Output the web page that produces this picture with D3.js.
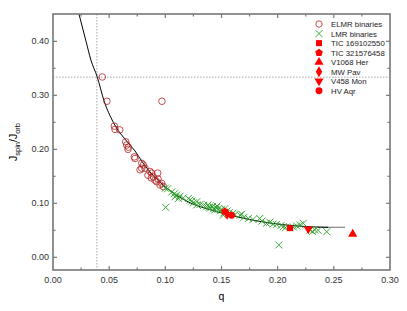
<!DOCTYPE html>
<html>
<head>
<meta charset="utf-8">
<script src="https://cdn.jsdelivr.net/npm/d3@7"></script>
<style>
  body { margin: 0; background: #fff; }
  svg { display: block; font-family: "Liberation Sans", Arial, sans-serif; }
</style>
</head>
<body>
<svg id="chart" width="407" height="311"></svg>
<script>
// ELMR binaries [q, Jspin/Jorb]
const elmrData = [
  [0.0439, 0.334], [0.048, 0.289], [0.097, 0.289], [0.0546, 0.243], [0.0552, 0.237],
  [0.0594, 0.236], [0.0647, 0.214], [0.0656, 0.208], [0.067, 0.204], [0.0668, 0.200],
  [0.0724, 0.186], [0.073, 0.183], [0.079, 0.174], [0.0804, 0.171], [0.0775, 0.162],
  [0.079, 0.165], [0.0819, 0.165], [0.0863, 0.159], [0.0879, 0.156], [0.0932, 0.156],
  [0.0893, 0.149], [0.0908, 0.143], [0.0923, 0.140], [0.0968, 0.137], [0.0953, 0.134],
  [0.0982, 0.131], [0.0845, 0.152], [0.0875, 0.147], [0.0935, 0.145]
];

// LMR binaries [q, Jspin/Jorb]
const lmrData = [
  [0.1003, 0.0926], [0.201, 0.0228],
  [0.100, 0.128], [0.102, 0.127], [0.1057, 0.121], [0.108, 0.118], [0.110, 0.115],
  [0.1086, 0.112], [0.1116, 0.109], [0.113, 0.113], [0.116, 0.110], [0.1205, 0.109],
  [0.122, 0.106], [0.1235, 0.104], [0.125, 0.101], [0.128, 0.103], [0.128, 0.097],
  [0.131, 0.098], [0.134, 0.096], [0.1368, 0.0937], [0.138, 0.097], [0.140, 0.091],
  [0.142, 0.094], [0.144, 0.0876], [0.145, 0.092], [0.147, 0.089], [0.149, 0.086],
  [0.1516, 0.078], [0.152, 0.082], [0.155, 0.086], [0.157, 0.083], [0.160, 0.0815],
  [0.162, 0.079], [0.1665, 0.078], [0.168, 0.080], [0.170, 0.074], [0.174, 0.072],
  [0.178, 0.070], [0.184, 0.072], [0.186, 0.067], [0.190, 0.063], [0.193, 0.065],
  [0.196, 0.0617], [0.199, 0.061], [0.203, 0.059], [0.205, 0.0567], [0.207, 0.055],
  [0.211, 0.0548], [0.214, 0.056], [0.217, 0.058], [0.220, 0.060], [0.2228, 0.063],
  [0.2288, 0.0506], [0.231, 0.048], [0.233, 0.0506], [0.236, 0.050], [0.2437, 0.0475],
  [0.139, 0.093], [0.143, 0.090], [0.146, 0.095], [0.150, 0.089], [0.153, 0.090]
];

// individual systems
const starNames = ["TIC 169102550", "TIC 321576458", "V1068 Her", "MW Pav", "V458 Mon", "HV Aqr"];
const starQ = [0.211, 0.153, 0.2668, 0.155, 0.2273, 0.159];
const starJ = [0.054, 0.085, 0.043, 0.080, 0.052, 0.078];

// fitted relation
const curveQ = [0.0232, 0.0294, 0.0338, 0.0394, 0.0454, 0.0537, 0.0656, 0.073, 0.080, 0.090,
                0.100, 0.110, 0.122, 0.140, 0.1576, 0.180, 0.202, 0.225, 0.245];
const curveJ = [0.450, 0.400, 0.365, 0.334, 0.290, 0.250, 0.215, 0.197, 0.175, 0.150,
                0.130, 0.115, 0.101, 0.088, 0.078, 0.068, 0.061, 0.057, 0.0555];
const tailQ = [0.235, 0.260];
const tailJ = [0.0556, 0.0556];

// reference lines
const qLimit = 0.039;
const jLimit = 1 / 3;

const xTicks = [0, 0.05, 0.10, 0.15, 0.20, 0.25, 0.30];
const yTicks = [0, 0.10, 0.20, 0.30, 0.40];

const svg = d3.select("#chart");
const pL = 53, pR = 390, pT = 14, pB = 270;

const x = d3.scaleLinear().domain([0, 0.30]).range([pL, pR]);
const y = d3.scaleLinear().domain([-0.0235, 0.4506]).range([pB, pT]);

const axisColor = "#777";
const textColor = "#333";

// dotted reference lines
svg.append("line")
  .attr("x1", x(qLimit)).attr("x2", x(qLimit))
  .attr("y1", pT).attr("y2", pB)
  .attr("stroke", "#c4c4c4").attr("stroke-width", 1.5)
  .attr("stroke-dasharray", "1.5,1.5");
svg.append("line")
  .attr("x1", pL).attr("x2", pR)
  .attr("y1", y(jLimit)).attr("y2", y(jLimit))
  .attr("stroke", "#c4c4c4").attr("stroke-width", 1.5)
  .attr("stroke-dasharray", "1.5,1.5");

svg.append("clipPath").attr("id", "plot-clip")
  .append("rect").attr("x", pL).attr("y", pT)
  .attr("width", pR - pL).attr("height", pB - pT);

const plot = svg.append("g").attr("clip-path", "url(#plot-clip)");

// curve
const line = d3.line()
  .x(d => x(d[0]))
  .y(d => y(d[1]))
  .curve(d3.curveMonotoneX);

plot.append("path")
  .datum(tailQ.map((q, i) => [q, tailJ[i]]))
  .attr("fill", "none")
  .attr("stroke", "#888")
  .attr("stroke-width", 1.2)
  .attr("d", line);

plot.append("path")
  .datum(curveQ.map((q, i) => [q, curveJ[i]]))
  .attr("fill", "none")
  .attr("stroke", "#000")
  .attr("stroke-width", 1)
  .attr("d", line);

// ELMR open circles
plot.selectAll(".elmr")
  .data(elmrData)
  .enter()
  .append("circle")
  .attr("class", "elmr")
  .attr("cx", d => x(d[0]))
  .attr("cy", d => y(d[1]))
  .attr("r", 3.3)
  .attr("fill", "none")
  .attr("stroke", "#b22222")
  .attr("stroke-width", 0.8);

// LMR crosses
const crossSize = 3.5;
const crossPath = s => `M${-s},${-s}L${s},${s}M${-s},${s}L${s},${-s}`;
plot.selectAll(".lmr")
  .data(lmrData)
  .enter()
  .append("path")
  .attr("class", "lmr")
  .attr("transform", d => `translate(${x(d[0])},${y(d[1])})`)
  .attr("d", crossPath(crossSize))
  .attr("fill", "none")
  .attr("stroke", "#2aa02a")
  .attr("stroke-width", 0.9);

// pentagon and down-triangle symbols
const symbolPentagon = {
  draw(context, size) {
    const r = Math.sqrt(size / 2.38);
    for (let i = 0; i < 5; i++) {
      const a = -Math.PI / 2 + i * 2 * Math.PI / 5;
      if (i === 0) context.moveTo(r * Math.cos(a), r * Math.sin(a));
      else context.lineTo(r * Math.cos(a), r * Math.sin(a));
    }
    context.closePath();
  }
};
const symbolTriangleDown = {
  draw(context, size) {
    const s = Math.sqrt(size / (Math.sqrt(3) / 4)) / 2;
    context.moveTo(-s, -s * 0.6);
    context.lineTo(s, -s * 0.6);
    context.lineTo(0, s * 1.1);
    context.closePath();
  }
};

const starSymbols = [d3.symbolSquare, symbolPentagon, d3.symbolTriangle, d3.symbolDiamond, symbolTriangleDown, d3.symbolCircle];
const starSizes = [36, 38, 36, 36, 36, 38];

plot.selectAll(".star")
  .data(starNames)
  .enter()
  .append("path")
  .attr("class", "star")
  .attr("transform", (d, i) => `translate(${x(starQ[i])},${y(starJ[i])})`)
  .attr("d", (d, i) => d3.symbol(starSymbols[i], starSizes[i])())
  .attr("fill", "#ff0000");

// frame
svg.append("rect")
  .attr("x", pL).attr("y", pT)
  .attr("width", pR - pL).attr("height", pB - pT)
  .attr("fill", "none")
  .attr("stroke", axisColor)
  .attr("stroke-width", 1.6);

// ticks (inward, mirrored)
const xMinor = d3.range(0.025, 0.30, 0.05);
const yMinor = [0.05, 0.15, 0.25, 0.35];

function xTickMarks(vals, len) {
  vals.forEach(v => {
    svg.append("line").attr("x1", x(v)).attr("x2", x(v))
      .attr("y1", pB).attr("y2", pB - len)
      .attr("stroke", axisColor).attr("stroke-width", 1.2);
    svg.append("line").attr("x1", x(v)).attr("x2", x(v))
      .attr("y1", pT).attr("y2", pT + len)
      .attr("stroke", axisColor).attr("stroke-width", 1.2);
  });
}
function yTickMarks(vals, len) {
  vals.forEach(v => {
    svg.append("line").attr("x1", pL).attr("x2", pL + len)
      .attr("y1", y(v)).attr("y2", y(v))
      .attr("stroke", axisColor).attr("stroke-width", 1.2);
    svg.append("line").attr("x1", pR).attr("x2", pR - len)
      .attr("y1", y(v)).attr("y2", y(v))
      .attr("stroke", axisColor).attr("stroke-width", 1.2);
  });
}
xTickMarks(xTicks.slice(1, -1), 4);
xTickMarks(xMinor, 2.5);
yTickMarks(yTicks, 4);
yTickMarks(yMinor, 2.5);

// tick labels
svg.selectAll(".xlab")
  .data(xTicks)
  .enter()
  .append("text")
  .attr("x", d => x(d))
  .attr("y", pB + 13)
  .attr("text-anchor", "middle")
  .attr("font-size", 9)
  .attr("fill", textColor)
  .text(d => d3.format(".2f")(d));

svg.selectAll(".ylab")
  .data(yTicks)
  .enter()
  .append("text")
  .attr("x", pL - 4)
  .attr("y", d => y(d) + 3)
  .attr("text-anchor", "end")
  .attr("font-size", 9)
  .attr("fill", textColor)
  .text(d => d3.format(".2f")(d));

// axis titles
svg.append("text")
  .attr("x", (pL + pR) / 2)
  .attr("y", 300)
  .attr("text-anchor", "middle")
  .attr("font-size", 10.5)
  .attr("fill", "#000")
  .text("q");

const yTitle = svg.append("text")
  .attr("transform", `translate(17,${(pT + pB) / 2}) rotate(-90)`)
  .attr("text-anchor", "middle")
  .attr("font-size", 10.5)
  .attr("fill", "#000");
yTitle.append("tspan").text("J");
yTitle.append("tspan").attr("font-size", 7.5).attr("dy", 2.5).text("spin");
yTitle.append("tspan").attr("dy", -2.5).text("/J");
yTitle.append("tspan").attr("font-size", 7.5).attr("dy", 2.5).text("orb");

// legend
const legendNames = ["ELMR binaries", "LMR binaries"].concat(starNames);
const legend = svg.append("g").attr("transform", "translate(319,24)");
const rowH = 9.55;
legendNames.forEach((name, i) => {
  const row = legend.append("g").attr("transform", `translate(0,${i * rowH})`);
  if (i === 0) {
    row.append("circle").attr("r", 3.2).attr("fill", "none")
      .attr("stroke", "#b22222").attr("stroke-width", 0.8);
  } else if (i === 1) {
    row.append("path").attr("d", crossPath(crossSize)).attr("fill", "none")
      .attr("stroke", "#2aa02a").attr("stroke-width", 0.9);
  } else {
    row.append("path").attr("d", d3.symbol(starSymbols[i - 2], starSizes[i - 2])())
      .attr("fill", "#ff0000");
  }
  row.append("text")
    .attr("x", 12)
    .attr("y", 3)
    .attr("font-size", 7.8)
    .attr("fill", "#222")
    .text(name);
});
</script>
</body>
</html>
